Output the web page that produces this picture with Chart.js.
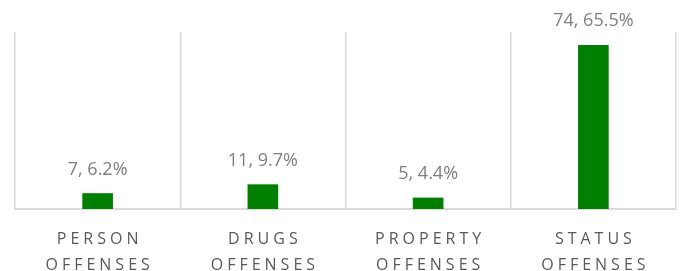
<!DOCTYPE html>
<html>
<head>
<meta charset="utf-8">
<script src="https://cdn.jsdelivr.net/npm/chart.js@4"></script>
<style>
  html, body { margin: 0; padding: 0; background: #fff; overflow: hidden; }
  #wrap { width: 683px; height: 295px; position: relative; }
</style>
</head>
<body>
<div id="wrap"><canvas id="grafico"></canvas></div>
<script>
const categorias = [['PERSON', 'OFFENSES'], ['DRUGS', 'OFFENSES'], ['PROPERTY', 'OFFENSES'], ['STATUS', 'OFFENSES']];
const cantidades = [7, 11, 5, 74];
const porcentajes = [6.2, 9.7, 4.4, 65.5];

const grafx = document.getElementById('grafico').getContext('2d');

// spaced-out axis labels, plain value labels above the bars
const etiquetas = {
  id: 'etiquetas',
  beforeDraw(chart) {
    chart.ctx.letterSpacing = '4px';
  },
  afterDatasetsDraw(chart) {
    const ctx = chart.ctx;
    const meta = chart.getDatasetMeta(0);
    ctx.save();
    ctx.letterSpacing = '0px';
    ctx.font = '18px "Open Sans"';
    ctx.fillStyle = '#7f7f7f';
    ctx.textAlign = 'center';
    ctx.textBaseline = 'alphabetic';
    meta.data.forEach((bar, i) => {
      ctx.fillText(`${cantidades[i]}, ${porcentajes[i]}%`, bar.x, bar.y - 19);
    });
    ctx.restore();
  }
};

const grafico = new Chart(grafx, {
  type: 'bar',
  data: {
    labels: categorias,
    datasets: [{
      data: cantidades,
      backgroundColor: '#008000',
      barThickness: 30
    }]
  },
  options: {
    responsive: true,
    maintainAspectRatio: false,
    animation: false,
    layout: { padding: { left: 15, right: 7, top: 32, bottom: 0 } },
    plugins: { legend: { display: false }, tooltip: { enabled: false } },
    scales: {
      x: {
        grid: { offset: true, color: '#d9d9d9', lineWidth: 1.5, drawTicks: false },
        border: { color: '#d9d9d9', width: 2 },
        ticks: {
          color: '#595959',
          font: { family: 'Open Sans', size: 16, lineHeight: '26px' },
          padding: 17,
          labelOffset: 2,
          maxRotation: 0,
          autoSkip: false
        }
      },
      y: {
        display: false,
        min: 0,
        max: 80
      }
    }
  },
  plugins: [etiquetas]
});
</script>
</body>
</html>
